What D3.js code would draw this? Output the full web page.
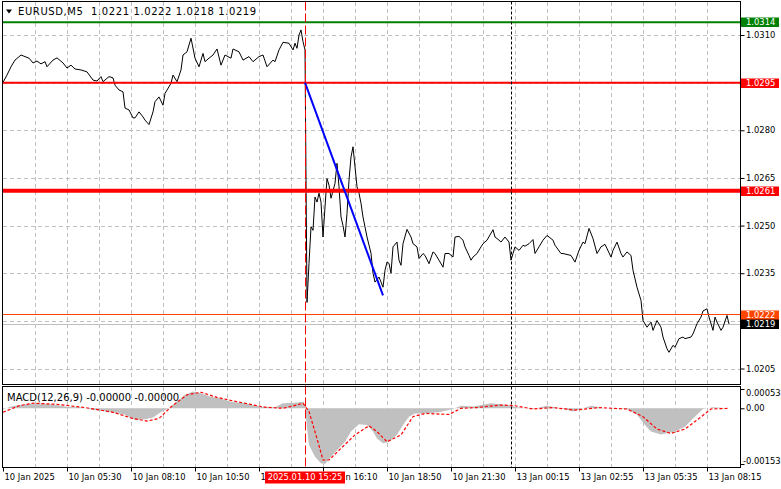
<!DOCTYPE html>
<html><head><meta charset="utf-8">
<script src="https://cdn.jsdelivr.net/npm/d3@7"></script>
<style>
body{margin:0;background:#fff;}
svg{display:block;}
text{font-family:"DejaVu Sans",sans-serif;font-size:8.4px;fill:#000;}
text.ttl{font-size:10px;}
text.main{letter-spacing:0.6px;}
</style></head><body>
<svg id="c" width="781" height="489"></svg>
<script>
// ---- DATA (bar index, value) ----
const priceSeries = [
[0,1.02951],[2,1.02974],[4,1.03000],[6,1.03021],[9,1.03037],[11,1.03032],[13,1.03027],[15,1.03012],[17,1.03018],[19,1.03009],
[21,1.03016],[22,1.03000],[25,1.03021],[27,1.03028],[30,1.03012],[32,1.02996],[34,1.03005],[36,1.02993],[39,1.02990],[42,1.02984],
[45,1.02958],[47,1.02955],[49,1.02969],[50,1.02953],[53,1.02969],[55,1.02965],[56,1.02942],[58,1.02927],[60,1.02921],[61,1.02870],
[63,1.02864],[65,1.02839],[66,1.02839],[68,1.02858],[70,1.02842],[71,1.02832],[73,1.02818],[75,1.02858],[76,1.02890],[78,1.02905],
[80,1.02879],[81,1.02916],[84,1.02948],[85,1.02974],[87,1.02953],[89,1.02990],[90,1.03037],[92,1.03047],[94,1.03090],[96,1.03027],
[98,1.03000],[100,1.03042],[101,1.03016],[103,1.03027],[105,1.03037],[107,1.03056],[109,1.03005],[111,1.03037],[114,1.03027],[115,1.03056],
[118,1.03047],[120,1.03021],[123,1.03032],[125,1.03016],[128,1.03032],[130,1.03037],[132,1.03000],[135,1.03021],[136,1.03016],[138,1.03053],
[140,1.03077],[143,1.03074],[145,1.03053],[146,1.03074],[147,1.03058],[148,1.03100],[149,1.03116],[150,1.03079],[151,1.03053],
[152,1.02258],[153,1.02381],[154,1.02496],[155,1.02485],[156,1.02590],[157,1.02574],[158,1.02602],[159,1.02574],[160,1.02464],[161,1.02559],
[162,1.02648],[163,1.02627],[164,1.02586],[166,1.02633],[167,1.02696],[168,1.02622],[169,1.02527],[170,1.02500],[171,1.02464],[172,1.02538],
[173,1.02643],[174,1.02716],[175,1.02748],[176,1.02685],[177,1.02622],[178,1.02602],[179,1.02570],[180,1.02527],[182,1.02464],[184,1.02413],
[185,1.02350],[186,1.02322],[188,1.02338],[190,1.02306],[191,1.02359],[192,1.02385],[193,1.02381],[194,1.02350],[195,1.02433],[197,1.02448],
[198,1.02391],[199,1.02375],[200,1.02443],[202,1.02488],[204,1.02464],[205,1.02443],[207,1.02433],[208,1.02396],[210,1.02412],[211,1.02406],
[213,1.02380],[215,1.02417],[216,1.02412],[218,1.02391],[220,1.02369],[221,1.02412],[223,1.02412],[225,1.02401],[226,1.02464],[228,1.02466],
[230,1.02454],[231,1.02433],[233,1.02406],[234,1.02391],[235,1.02401],[237,1.02412],[239,1.02433],[240,1.02443],[242,1.02454],[245,1.02487],
[246,1.02464],[248,1.02454],[249,1.02448],[251,1.02464],[253,1.02448],[254,1.02391],[255,1.02412],[256,1.02433],[258,1.02422],[260,1.02438],
[261,1.02435],[263,1.02443],[265,1.02456],[266,1.02412],[268,1.02433],[270,1.02454],[272,1.02469],[275,1.02454],[276,1.02438],[279,1.02412],
[280,1.02412],[284,1.02406],[286,1.02385],[288,1.02422],[290,1.02448],[291,1.02443],[293,1.02491],[295,1.02459],[297,1.02412],[299,1.02433],
[301,1.02441],[304,1.02401],[305,1.02422],[307,1.02448],[309,1.02412],[310,1.02401],[312,1.02417],[314,1.02406],[315,1.02359],[317,1.02306],
[319,1.02264],[320,1.02201],[322,1.02180],[324,1.02196],[325,1.02170],[327,1.02201],[329,1.02180],[330,1.02149],[332,1.02112],[333,1.02101],
[335,1.02123],[336,1.02117],[338,1.02144],[340,1.02149],[341,1.02144],[344,1.02149],[345,1.02159],[347,1.02191],[349,1.02212],[350,1.02231],
[352,1.02238],[353,1.02212],[355,1.02170],[356,1.02212],[357,1.02196],[359,1.02170],[360,1.02180],[362,1.02217],[363,1.02190]
];
const macdSeries = [
[0,-0.00003],[4,0.00005],[9,0.00010],[16,0.00014],[24,0.00011],[32,0.00004],[39,0.00003],[45,-0.00005],[54,-0.00010],[61,-0.00018],
[66,-0.00032],[71,-0.00030],[75,-0.00025],[79,-0.00010],[83,0],[86,0.00014],[91,0.00037],[95,0.00046],[99,0.00041],[104,0.00032],
[109,0.00027],[114,0.00018],[121,0.00014],[129,0.00004],[136,0.00003],[140,0.00014],[146,0.00015],[150,0.00018],[151,0.00010],
[152,-0.00054],[153,-0.00101],[156,-0.00133],[159,-0.00151],[161,-0.00153],[164,-0.00133],[167,-0.00115],[171,-0.00092],[174,-0.00064],
[178,-0.00044],[182,-0.00046],[185,-0.00064],[187,-0.00083],[190,-0.00096],[193,-0.00092],[197,-0.00073],[200,-0.00046],[203,-0.00023],
[206,-0.00014],[211,-0.00014],[218,-0.00011],[225,-0.00002],[229,0.00007],[235,0.00005],[244,0.00014],[249,0.00011],[253,0.00008],
[258,0.00002],[265,-0.00002],[272,0.00007],[279,0],[285,-0.00009],[294,0.00007],[301,0],[312,-0.00002],[317,-0.00018],[321,-0.00046],
[324,-0.00064],[329,-0.00072],[336,-0.00064],[341,-0.00051],[345,-0.00028],[350,-0.00002],[355,0.00003],[363,0]
];
const signalSeries = [
[0,-0.00011],[8,0.00007],[15,0.00014],[27,0.00011],[41,0.00002],[55,-0.00011],[65,-0.00028],[72,-0.00035],[78,-0.00028],[84,0.00004],
[92,0.00037],[99,0.00044],[107,0.00030],[117,0.00018],[131,0.00003],[140,0],[147,0.00009],[150,0.00014],[153,-0.00009],[157,-0.00083],
[160,-0.00142],[163,-0.00142],[169,-0.00110],[176,-0.00073],[183,-0.00048],[187,-0.00064],[192,-0.00092],[199,-0.00073],[205,-0.00023],
[211,-0.00014],[223,-0.00017],[229,0],[237,0.00002],[249,0.00009],[256,0.00007],[265,-0.00002],[275,0.00002],[286,-0.00005],[298,0.00002],
[312,-0.00002],[320,-0.00023],[327,-0.00057],[334,-0.00069],[341,-0.00057],[348,-0.00028],[354,-0.00002],[363,0]
];
const priceTicks = [1.0310,1.0295,1.0280,1.0265,1.0250,1.0235,1.0220,1.0205];
const macdTicks = [0.00053,0,-0.00153];
const macdTickLabels = ["0.00053","0.00","-0.00153"];
const timeTickBars = [0,32,64,96,128,160,192,224,256,288,320,352];
const timeTickLabels = ["10 Jan 2025","10 Jan 05:30","10 Jan 08:10","10 Jan 10:50","10 Jan 13:30","10 Jan 16:10","10 Jan 18:50","10 Jan 21:30","13 Jan 00:15","13 Jan 02:55","13 Jan 05:35","13 Jan 08:15"];
const levelPrices = [1.0314,1.0295,1.0261,1.0222];
const bidPrice = 1.0219;
const trendPoints = [[151,1.0295],[190,1.0228]];
const markerBar = 151, markerLabel = "2025.01.10 15:25";
const daySepBar = 254;
const titleText = "EURUSD,M5  1.0221 1.0222 1.0218 1.0219";
const macdTitle = "MACD(12,26,9) -0.00000 -0.00000";

// ---- STYLE / LAYOUT ----
const levelColors = ["#008000","#ff0000","#ff0000","#ff4500"];
const levelWidths = [2,2,4,1];
const L=2.5, R=740.5, MT=1.5, MB=384.5, ST=386.5, SB=467.5;

const svg=d3.select("#c");
const x=d3.scaleLinear().domain([0,363]).range([3,729]);
const y=d3.scaleLinear().domain([1.0205,1.0310]).range([368.5,35]);
const ym=d3.scaleLinear().domain([-0.00153,0.00053]).range([464,389]);

const defs=svg.append("defs");
defs.append("clipPath").attr("id","cm").append("rect").attr("x",L).attr("y",MT).attr("width",R-L).attr("height",MB-MT);
defs.append("clipPath").attr("id","cs").append("rect").attr("x",L).attr("y",ST).attr("width",R-L).attr("height",SB-ST);

// grid
const gridBars=d3.range(16,364,16);
const g=svg.append("g").attr("stroke","#c0c0c0").attr("stroke-dasharray","4,3").attr("shape-rendering","crispEdges");
gridBars.forEach(b=>{
  const xx=Math.round(x(b))+0.5;
  g.append("line").attr("x1",xx).attr("x2",xx).attr("y1",MT).attr("y2",MB);
  g.append("line").attr("x1",xx).attr("x2",xx).attr("y1",ST).attr("y2",SB);
});
priceTicks.forEach(p=>{
  const yy=Math.round(y(p))+0.5;
  g.append("line").attr("x1",L).attr("x2",R).attr("y1",yy).attr("y2",yy);
});

// MACD histogram + signal
const sp=svg.append("g").attr("clip-path","url(#cs)");
sp.append("path").datum(macdSeries)
  .attr("d",d3.area().x(d=>x(d[0])).y0(ym(0)).y1(d=>ym(d[1])))
  .attr("fill","#c0c0c0");
sp.append("path").datum(signalSeries)
  .attr("d",d3.line().x(d=>x(d[0])).y(d=>ym(d[1])))
  .attr("fill","none").attr("stroke","#ff0000").attr("stroke-width",1.2).attr("stroke-dasharray","3,2");

// main panel
const mp=svg.append("g").attr("clip-path","url(#cm)");
mp.append("line").attr("x1",L).attr("x2",R).attr("y1",Math.round(y(bidPrice))+0.5).attr("y2",Math.round(y(bidPrice))+0.5)
  .attr("stroke","#c0c0c0");
[[daySepBar,"#000","3,2",1],[markerBar,"#ff0000","9,3",1]].forEach(([b,c,da,w])=>{
  const xx=Math.round(x(b))+0.5;
  svg.append("line").attr("x1",xx).attr("x2",xx).attr("y1",MT).attr("y2",SB)
    .attr("stroke",c).attr("stroke-dasharray",da).attr("stroke-width",w);
});
mp.append("path").datum(priceSeries)
  .attr("d",d3.line().x(d=>x(d[0])).y(d=>y(d[1])))
  .attr("fill","none").attr("stroke","#000").attr("stroke-width",1);
levelPrices.forEach((p,i)=>{
  mp.append("line").attr("x1",L).attr("x2",R).attr("y1",y(p)).attr("y2",y(p))
    .attr("stroke",levelColors[i]).attr("stroke-width",levelWidths[i]);
});
mp.append("path").datum(trendPoints)
  .attr("d",d3.line().x(d=>x(d[0])).y(d=>y(d[1])))
  .attr("stroke","#0000ff").attr("stroke-width",2).attr("fill","none");

// frames
const fr=svg.append("g").attr("fill","none").attr("stroke","#000").attr("shape-rendering","crispEdges");
fr.append("rect").attr("x",L).attr("y",MT).attr("width",R-L).attr("height",MB-MT);
fr.append("rect").attr("x",L).attr("y",ST).attr("width",R-L).attr("height",SB-ST);

// level boxes (price) used to hide covered tick labels
const boxes=levelPrices.map((p,i)=>({p,c:levelColors[i]})).concat([{p:bidPrice,c:"#000"}]);
const covered=p=>boxes.some(b=>Math.abs(y(b.p)-y(p))<8);

// right price axis
const ay=svg.append("g").attr("transform",`translate(${R},0)`)
  .call(d3.axisRight(y).tickValues(priceTicks).tickSize(4).tickPadding(1.5)
    .tickFormat(p=>covered(p)?"":d3.format(".4f")(p)));
ay.select(".domain").remove();
ay.selectAll("text").attr("font-size",null).attr("font-family",null);
// MACD axis
const am=svg.append("g").attr("transform",`translate(${R},0)`)
  .call(d3.axisRight(ym).tickValues(macdTicks).tickSize(4).tickPadding(1.5).tickFormat((d,i)=>macdTickLabels[i]));
am.select(".domain").remove();
am.selectAll("text").attr("font-size",null).attr("font-family",null)
  .attr("dy",(d,i)=>i===0?"0.75em":(i===2?"-0.05em":"0.32em"))
  .attr("dx",(d,i)=>i===2?-3:0);
// bottom time axis
const ax=svg.append("g").attr("transform",`translate(0,${SB})`)
  .call(d3.axisBottom(x).tickValues(timeTickBars).tickSize(4).tickPadding(3).tickFormat((d,i)=>timeTickLabels[i]));
ax.select(".domain").remove();
ax.selectAll("text").attr("font-size",null).attr("font-family",null).attr("text-anchor","start").attr("dx",1);

// level boxes on the right axis
boxes.forEach(bx=>{
  const yy=Math.round(y(bx.p));
  svg.append("rect").attr("x",741).attr("y",yy-4.5).attr("width",38).attr("height",9.5).attr("fill",bx.c);
  svg.append("text").attr("x",746).attr("y",yy).attr("dy","0.35em").style("fill","#fff").text(d3.format(".4f")(bx.p));
});

// marker time box
const mx=x(markerBar);
svg.append("rect").attr("x",mx-40).attr("y",471.5).attr("width",80).attr("height",12).attr("fill","#ff0000");
svg.append("text").attr("x",mx).attr("y",477.5).attr("dy","0.35em").attr("text-anchor","middle").style("fill","#fff").text(markerLabel);

// titles
svg.append("path").attr("d","M6,9.5L12,9.5L9,13.5Z").attr("fill","#000");
svg.append("text").attr("class","ttl main").attr("x",18).attr("y",14.5).style("white-space","pre").text(titleText);
svg.append("text").attr("class","ttl").attr("x",7).attr("y",400.5).style("white-space","pre").text(macdTitle);
</script>
</body></html>
